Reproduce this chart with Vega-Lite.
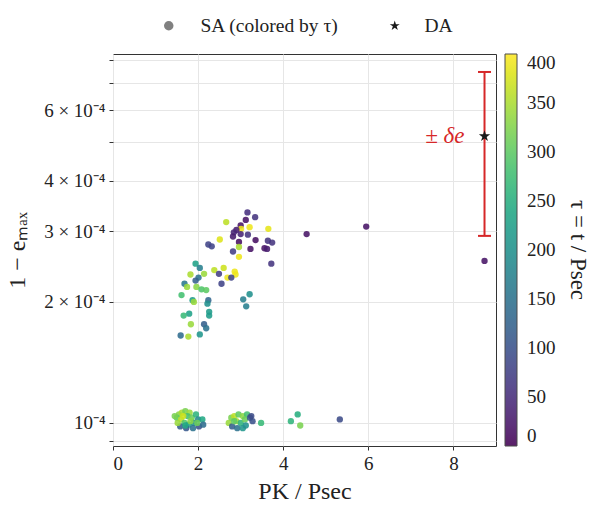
{
  "$schema": "https://vega.github.io/schema/vega-lite/v6.json",
  "width": 383,
  "height": 392,
  "autosize": "none",
  "padding": {"left": 113, "top": 54, "right": 102, "bottom": 64},
  "background": "white",
  "config": {
    "font": "Liberation Serif",
    "view": {"stroke": "#333333", "strokeWidth": 1},
    "axis": {
      "labelFont": "Liberation Serif",
      "labelFontSize": 19,
      "labelColor": "#222222",
      "titleFont": "Liberation Serif",
      "titleFontSize": 24,
      "titleFontWeight": "normal",
      "titleColor": "#222222",
      "tickColor": "#333333",
      "tickSize": 4,
      "domain": false,
      "grid": true,
      "gridColor": "#e6e6e6",
      "gridWidth": 1
    },
    "legend": {
      "labelFont": "Liberation Serif",
      "titleFont": "Liberation Serif"
    }
  },
  "resolve": {"scale": {"color": "independent"}},
  "datasets": {
    "sa": [
      {"x":3.16,"y":3.34,"tau":55},{"x":3.34,"y":3.25,"tau":60},{"x":2.66,"y":3.16,"tau":360},{"x":3.12,"y":3.20,"tau":20},
      {"x":3.00,"y":3.10,"tau":20},{"x":3.01,"y":3.04,"tau":390},{"x":3.21,"y":3.07,"tau":390},{"x":3.65,"y":3.04,"tau":385},
      {"x":2.90,"y":3.02,"tau":30},{"x":2.84,"y":2.98,"tau":40},{"x":2.82,"y":2.91,"tau":30},{"x":3.00,"y":2.95,"tau":40},
      {"x":3.17,"y":2.94,"tau":60},{"x":2.51,"y":2.86,"tau":380},{"x":2.96,"y":2.82,"tau":15},{"x":3.35,"y":2.85,"tau":15},
      {"x":3.64,"y":2.84,"tau":60},{"x":3.74,"y":2.81,"tau":60},{"x":2.24,"y":2.78,"tau":80},{"x":2.32,"y":2.75,"tau":80},
      {"x":2.96,"y":2.74,"tau":350},{"x":3.23,"y":2.71,"tau":20},{"x":3.56,"y":2.72,"tau":20},{"x":3.62,"y":2.71,"tau":30},
      {"x":2.82,"y":2.67,"tau":70},{"x":2.96,"y":2.59,"tau":390},{"x":3.72,"y":2.49,"tau":60},{"x":1.94,"y":2.49,"tau":230},
      {"x":2.04,"y":2.43,"tau":170},{"x":1.82,"y":2.34,"tau":350},{"x":2.01,"y":2.30,"tau":150},{"x":2.14,"y":2.35,"tau":340},
      {"x":2.38,"y":2.40,"tau":360},{"x":2.49,"y":2.35,"tau":70},{"x":2.60,"y":2.43,"tau":370},{"x":2.86,"y":2.38,"tau":390},
      {"x":2.88,"y":2.34,"tau":390},{"x":2.69,"y":2.30,"tau":390},{"x":2.78,"y":2.30,"tau":80},{"x":1.94,"y":2.26,"tau":120},
      {"x":2.55,"y":2.22,"tau":80},{"x":1.68,"y":2.22,"tau":160},{"x":1.74,"y":2.18,"tau":340},{"x":1.96,"y":2.18,"tau":330},
      {"x":2.08,"y":2.15,"tau":290},{"x":2.19,"y":2.14,"tau":300},{"x":1.61,"y":2.08,"tau":280},{"x":1.87,"y":2.02,"tau":220},
      {"x":1.90,"y":2.00,"tau":340},{"x":2.24,"y":2.02,"tau":130},{"x":2.22,"y":1.98,"tau":200},{"x":3.06,"y":2.03,"tau":170},
      {"x":3.21,"y":2.09,"tau":200},{"x":3.13,"y":1.95,"tau":170},{"x":2.26,"y":1.89,"tau":220},{"x":2.26,"y":1.85,"tau":220},
      {"x":1.79,"y":1.87,"tau":230},{"x":1.66,"y":1.85,"tau":270},{"x":1.83,"y":1.76,"tau":340},{"x":2.14,"y":1.76,"tau":120},
      {"x":2.19,"y":1.72,"tau":150},{"x":1.59,"y":1.65,"tau":140},{"x":1.77,"y":1.64,"tau":350},{"x":2.04,"y":1.66,"tau":210},
      {"x":4.55,"y":2.95,"tau":20},{"x":5.95,"y":3.08,"tau":20},{"x":8.73,"y":2.53,"tau":20},
      {"x":1.55,"y":1.05,"tau":330},{"x":1.62,"y":1.06,"tau":350},{"x":1.70,"y":1.07,"tau":320},{"x":1.80,"y":1.06,"tau":340},
      {"x":1.50,"y":1.03,"tau":300},{"x":1.60,"y":1.02,"tau":360},{"x":1.75,"y":1.04,"tau":280},{"x":1.85,"y":1.03,"tau":310},
      {"x":1.95,"y":1.05,"tau":260},{"x":1.68,"y":1.00,"tau":290},{"x":1.78,"y":0.99,"tau":230},{"x":1.90,"y":1.00,"tau":200},
      {"x":2.00,"y":1.02,"tau":190},{"x":2.10,"y":1.02,"tau":240},{"x":1.58,"y":0.98,"tau":120},{"x":1.72,"y":0.97,"tau":110},
      {"x":1.88,"y":0.97,"tau":150},{"x":2.02,"y":0.98,"tau":100},{"x":1.52,"y":1.00,"tau":340},{"x":1.65,"y":1.04,"tau":370},
      {"x":1.82,"y":1.01,"tau":330},{"x":1.98,"y":1.00,"tau":310},{"x":1.45,"y":1.04,"tau":320},{"x":2.12,"y":0.99,"tau":140},
      {"x":1.70,"y":0.985,"tau":240},
      {"x":2.72,"y":1.00,"tau":340},{"x":2.78,"y":1.03,"tau":320},{"x":2.85,"y":1.04,"tau":360},{"x":2.95,"y":1.05,"tau":300},
      {"x":3.05,"y":1.04,"tau":330},{"x":3.15,"y":1.05,"tau":280},{"x":2.80,"y":0.98,"tau":120},{"x":2.90,"y":1.01,"tau":350},
      {"x":3.00,"y":1.00,"tau":260},{"x":3.10,"y":1.02,"tau":310},{"x":3.22,"y":1.03,"tau":110},{"x":3.28,"y":1.01,"tau":100},
      {"x":2.92,"y":0.97,"tau":150},{"x":3.05,"y":0.97,"tau":210},{"x":3.12,"y":0.985,"tau":200},{"x":3.25,"y":1.04,"tau":90},
      {"x":2.85,"y":1.01,"tau":300},{"x":3.48,"y":1.00,"tau":270},
      {"x":4.34,"y":1.05,"tau":250},{"x":4.18,"y":1.01,"tau":260},{"x":4.40,"y":0.985,"tau":320},{"x":5.33,"y":1.02,"tau":90}
    ],
    "da": [
      {"x":8.73,"y":5.17,"lo":2.92,"hi":7.47,"label":"± δe"}
    ],
    "key_sa": [
      {"kind":"SA (colored by τ)"}
    ],
    "key_da": [
      {"kind":"DA"}
    ]
  },
  "layer": [
    {
      "data": {"name": "sa"},
      "mark": {"type": "point", "filled": true, "size": 40, "opacity": 0.88, "strokeWidth": 0, "shape": "circle"},
      "encoding": {
        "x": {
          "field": "x", "type": "quantitative",
          "scale": {"domain": [0, 9], "nice": false, "zero": false},
          "axis": {"values": [0, 2, 4, 6, 8], "title": "PK / Psec", "titlePadding": 6, "labelPadding": 4}
        },
        "y": {
          "field": "y", "type": "quantitative",
          "scale": {"type": "log", "domain": [0.876, 8.28], "nice": false},
          "axis": {
            "values": [0.9, 1, 2, 3, 4, 5, 6, 7, 8],
            "labelExpr": "datum.value == 1 ? '10⁻⁴' : datum.value == 2 ? '2 × 10⁻⁴' : datum.value == 3 ? '3 × 10⁻⁴' : datum.value == 4 ? '4 × 10⁻⁴' : datum.value == 6 ? '6 × 10⁻⁴' : ''",
            "title": "1 − eₘₐₓ", "titlePadding": 14, "labelPadding": 4
          }
        },
        "color": {
          "field": "tau", "type": "quantitative",
          "scale": {"scheme": "viridis", "domain": [0, 400]},
          "legend": {
            "orient": "right", "offset": 9, "direction": "vertical",
            "gradientLength": 392, "gradientThickness": 12,
            "gradientStrokeColor": "#333333", "gradientStrokeWidth": 1,
            "values": [0, 50, 100, 150, 200, 250, 300, 350, 400],
            "labelFontSize": 19, "labelColor": "#222222", "labelOffset": 10,
            "title": "τ = t / Psec", "titleFontSize": 23, "titleFontWeight": "normal", "titleColor": "#222222",
            "titleOrient": "right", "titleAnchor": "middle", "titlePadding": 10,
            "encode": {"title": {"update": {"angle": {"value": 270}}}}
          }
        }
      }
    },
    {
      "data": {"name": "da"},
      "mark": {"type": "rule", "color": "#d62728", "strokeWidth": 2},
      "encoding": {
        "x": {"field": "x", "type": "quantitative"},
        "y": {"field": "lo", "type": "quantitative"},
        "y2": {"field": "hi"}
      }
    },
    {
      "data": {"name": "da"},
      "mark": {"type": "tick", "orient": "horizontal", "color": "#d62728", "size": 13, "thickness": 2, "opacity": 1},
      "encoding": {
        "x": {"field": "x", "type": "quantitative"},
        "y": {"field": "lo", "type": "quantitative"}
      }
    },
    {
      "data": {"name": "da"},
      "mark": {"type": "tick", "orient": "horizontal", "color": "#d62728", "size": 13, "thickness": 2, "opacity": 1},
      "encoding": {
        "x": {"field": "x", "type": "quantitative"},
        "y": {"field": "hi", "type": "quantitative"}
      }
    },
    {
      "data": {"name": "da"},
      "mark": {"type": "point", "filled": true, "size": 140, "color": "#1a1a1a", "opacity": 1, "strokeWidth": 0, "shape": "M0,-1L0.225,-0.309L0.951,-0.309L0.363,0.118L0.588,0.809L0,0.382L-0.588,0.809L-0.363,0.118L-0.951,-0.309L-0.225,-0.309Z"},
      "encoding": {
        "x": {"field": "x", "type": "quantitative"},
        "y": {"field": "y", "type": "quantitative"}
      }
    },
    {
      "data": {"name": "da"},
      "mark": {"type": "text", "color": "#d62728", "fontSize": 23, "fontStyle": "italic", "align": "right", "baseline": "middle", "dx": -20, "font": "Liberation Serif"},
      "encoding": {
        "x": {"field": "x", "type": "quantitative"},
        "y": {"field": "y", "type": "quantitative"},
        "text": {"field": "label"}
      }
    },
    {
      "data": {"name": "key_sa"},
      "mark": {"type": "point", "filled": true, "opacity": 0},
      "encoding": {
        "color": {
          "field": "kind", "type": "nominal",
          "scale": {"domain": ["SA (colored by τ)"], "range": ["#808080"]},
          "legend": {
            "orient": "none", "legendX": 46, "legendY": -38, "direction": "horizontal",
            "title": null, "symbolType": "circle", "symbolSize": 90, "labelFontSize": 19.5, "labelColor": "#222222",
            "labelOffset": 22, "symbolStrokeWidth": 0, "symbolOpacity": 1
          }
        }
      }
    },
    {
      "data": {"name": "key_da"},
      "mark": {"type": "point", "filled": true, "opacity": 0, "color": "#1a1a1a"},
      "encoding": {
        "shape": {
          "field": "kind", "type": "nominal",
          "scale": {"domain": ["DA"], "range": ["M0,-1L0.225,-0.309L0.951,-0.309L0.363,0.118L0.588,0.809L0,0.382L-0.588,0.809L-0.363,0.118L-0.951,-0.309L-0.225,-0.309Z"]},
          "legend": {
            "orient": "none", "legendX": 272, "legendY": -38, "direction": "horizontal",
            "title": null, "symbolSize": 110, "labelFontSize": 19.5, "labelColor": "#222222",
            "labelOffset": 20, "symbolStrokeWidth": 0, "symbolOpacity": 1, "symbolFillColor": "#1a1a1a"
          }
        }
      }
    }
  ]
}
